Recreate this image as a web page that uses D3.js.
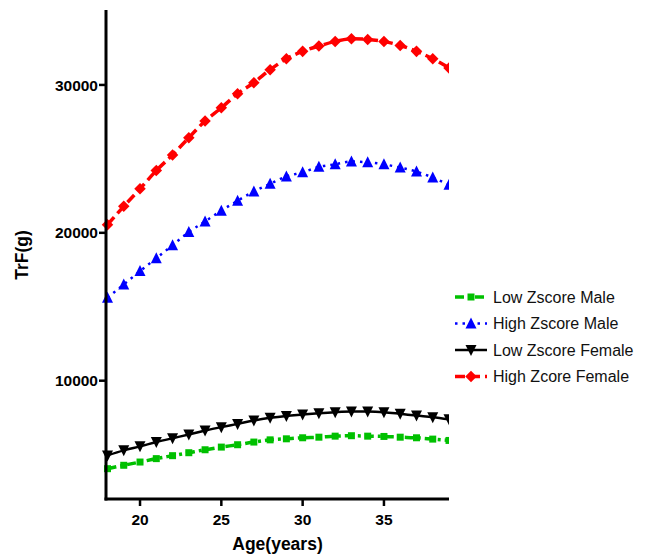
<!DOCTYPE html>
<html lang="en">
<head>
<meta charset="UTF-8">
<title>TrF by age</title>
<script src="https://cdn.jsdelivr.net/npm/d3@7"></script>
<style>
  body { margin: 0; background: #fff; }
  text { font-family: Arial, "Liberation Sans", sans-serif; }
</style>
</head>
<body>
<script>
// ages, one point per year
var ages = [18,19,20,21,22,23,24,25,26,27,28,29,30,31,32,33,34,35,36,37,38,39];

var lowMale = [4050,4280,4500,4730,4930,5130,5330,5510,5670,5850,6000,6070,6140,6180,6250,6280,6250,6230,6180,6140,6050,5960];
var highMale = [15610,16510,17410,18280,19160,20050,20770,21500,22170,22800,23310,23810,24090,24460,24630,24820,24770,24630,24410,24140,23740,23250];
var lowFemale = [4950,5290,5560,5850,6110,6360,6630,6860,7080,7310,7490,7620,7710,7800,7870,7910,7910,7870,7760,7640,7530,7390];
var highFemale = [20550,21790,22980,24210,25270,26430,27560,28450,29410,30150,31030,31770,32270,32630,32940,33120,33080,32940,32670,32270,31770,31150];

var seriesNames = ["Low Zscore Male", "High Zscore Male", "Low Zscore Female", "High Zcore Female"];
var xTicks = [20, 25, 30, 35];
var yTicks = [10000, 20000, 30000];

var w = 651, h = 556;
var pLeft = 106, pRight = 449, pTop = 10, pBottom = 499;

var x = d3.scaleLinear().domain([18, 39]).range([107.5, pRight]);
var y = d3.scaleLinear().domain([2000, 35000]).range([pBottom, pTop + 1]);

var svg = d3.select("body").append("svg")
    .attr("width", w)
    .attr("height", h);

svg.append("defs").append("clipPath").attr("id", "plot")
    .append("rect").attr("x", 90).attr("y", 0).attr("width", pRight - 90).attr("height", pBottom);

var series = [
    { name: seriesNames[0], values: lowMale, color: "#00c000", width: 3.5, dash: "9,4,3,4", shape: "square", size: 7 },
    { name: seriesNames[1], values: highMale, color: "#0000ff", width: 2.5, dash: "2.5,5", shape: "up", size: 10 },
    { name: seriesNames[2], values: lowFemale, color: "#000000", width: 2.5, dash: null, shape: "down", size: 10 },
    { name: seriesNames[3], values: highFemale, color: "#ff0000", width: 3.5, dash: "10,5", shape: "diamond", size: 8 }
];

function marker(shape, s) {
    // path centered at 0,0
    if (shape == "square") {
        var a = s / 2;
        return "M" + (-a) + "," + (-a) + "H" + a + "V" + a + "H" + (-a) + "Z";
    }
    if (shape == "diamond") {
        var d = s * 0.72;
        return "M0," + (-d) + "L" + d + ",0L0," + d + "L" + (-d) + ",0Z";
    }
    var hh = s * 0.5;
    if (shape == "up") return "M0," + (-hh - 1) + "L" + (s * 0.55) + "," + hh + "L" + (-s * 0.55) + "," + hh + "Z";
    return "M0," + (hh + 1) + "L" + (s * 0.55) + "," + (-hh) + "L" + (-s * 0.55) + "," + (-hh) + "Z";
}

var line = d3.line()
    .x(function(d) { return x(d[0]); })
    .y(function(d) { return y(d[1]); })
    .curve(d3.curveMonotoneX);

var plot = svg.append("g").attr("clip-path", "url(#plot)");

series.forEach(function(s) {
    var pts = ages.map(function(a, i) { return [a, s.values[i]]; });
    plot.append("path")
        .datum(pts)
        .attr("d", line)
        .attr("fill", "none")
        .attr("stroke", s.color)
        .attr("stroke-width", s.width)
        .attr("stroke-dasharray", s.dash);
    plot.selectAll(null)
        .data(pts)
        .enter()
        .append("path")
        .attr("transform", function(d) { return "translate(" + x(d[0]) + "," + y(d[1]) + ")"; })
        .attr("d", marker(s.shape, s.size))
        .attr("fill", s.color);
});

// axes
var xAxis = svg.append("g").attr("transform", "translate(0," + pBottom + ")");
xAxis.append("line").attr("x1", pLeft - 1.5).attr("x2", pRight).attr("stroke", "#000").attr("stroke-width", 3);
xAxis.selectAll(".tk").data(xTicks).enter().append("line")
    .attr("x1", function(d) { return x(d); }).attr("x2", function(d) { return x(d); })
    .attr("y1", 0).attr("y2", 7).attr("stroke", "#000").attr("stroke-width", 2.5);
xAxis.selectAll(".lb").data(xTicks).enter().append("text")
    .attr("x", function(d) { return x(d); }).attr("y", 26)
    .attr("text-anchor", "middle")
    .style("font-size", "15.5px").style("font-weight", "bold")
    .text(function(d) { return d; });

var yAxis = svg.append("g").attr("transform", "translate(" + pLeft + ",0)");
yAxis.append("line").attr("y1", pTop).attr("y2", pBottom + 1.5).attr("stroke", "#000").attr("stroke-width", 3);
yAxis.selectAll(".tk").data(yTicks).enter().append("line")
    .attr("y1", function(d) { return y(d); }).attr("y2", function(d) { return y(d); })
    .attr("x1", 0).attr("x2", -7).attr("stroke", "#000").attr("stroke-width", 2.5);
yAxis.selectAll(".lb").data(yTicks).enter().append("text")
    .attr("x", -8).attr("y", function(d) { return y(d); })
    .attr("dy", "0.36em")
    .attr("text-anchor", "end")
    .style("font-size", "15.5px").style("font-weight", "bold")
    .text(function(d) { return d; });

svg.append("text")
    .attr("x", (pLeft + pRight) / 2).attr("y", 550)
    .attr("text-anchor", "middle")
    .style("font-size", "17.5px").style("font-weight", "bold")
    .text("Age(years)");

svg.append("text")
    .attr("transform", "translate(28,255) rotate(-90)")
    .attr("text-anchor", "middle")
    .style("font-size", "17.5px").style("font-weight", "bold")
    .text("TrF(g)");

// legend
var legend = svg.append("g");
var rows = legend.selectAll("g").data(series).enter().append("g")
    .attr("transform", function(d, i) { return "translate(455," + (297 + i * 26.5) + ")"; });
rows.append("line")
    .attr("x1", 0).attr("x2", 32)
    .attr("stroke", function(d) { return d.color; })
    .attr("stroke-width", function(d) { return d.width; })
    .attr("stroke-dasharray", function(d) { return d.dash; });
rows.append("path")
    .attr("transform", "translate(16,0)")
    .attr("d", function(d) { return marker(d.shape, d.size); })
    .attr("fill", function(d) { return d.color; });
rows.append("text")
    .attr("x", 38).attr("dy", "0.36em")
    .style("font-size", "16px")
    .attr("fill", "#111")
    .text(function(d) { return d.name; });
</script>
</body>
</html>
